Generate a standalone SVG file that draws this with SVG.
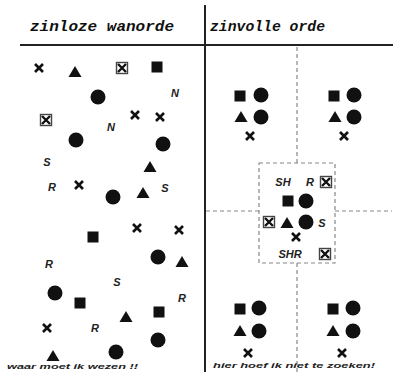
<svg xmlns="http://www.w3.org/2000/svg" xmlns:xlink="http://www.w3.org/1999/xlink" width="400" height="377" viewBox="0 0 400 377">
<style>
.ln{stroke:#222;stroke-width:2;fill:none}
.dash{stroke:#888;stroke-width:1.2;stroke-dasharray:4,3;fill:none}
.ttl{font-family:"Liberation Mono",monospace;font-weight:bold;font-style:italic;font-size:14px;fill:#111}
.ft{font-family:"Liberation Sans",Arial,sans-serif;font-weight:bold;font-style:italic;font-size:8px;fill:#222}
.lt{font-family:"Liberation Sans",Arial,sans-serif;font-weight:bold;font-style:italic;font-size:11px;fill:#222;text-anchor:middle}
</style>
<defs>
<rect id="sq" x="-5.5" y="-5.5" width="11" height="11" fill="#111"/>
<circle id="ci" r="7.5" fill="#111"/>
<polygon id="tr" points="0,-6 6.5,5 -6.5,5" fill="#111"/>
<path id="x" d="M-4,-4L4,4M4,-4L-4,4" stroke="#111" stroke-width="2.6" fill="none"/>
<g id="bx"><rect x="-5.5" y="-5.5" width="11" height="11" fill="none" stroke="#444" stroke-width="1.4"/><path d="M-4,-4L4,4M4,-4L-4,4" stroke="#111" stroke-width="2.4"/></g>
</defs>
<rect width="400" height="377" fill="#fff"/>
<g id="connectors">
<line class="ln" x1="20" y1="45" x2="393" y2="45"/>
<line class="ln" x1="205" y1="5" x2="205" y2="372"/>
<line class="dash" x1="297" y1="47" x2="297" y2="163"/>
<line class="dash" x1="297" y1="263" x2="297" y2="372"/>
<line class="dash" x1="206" y1="211" x2="259" y2="211"/>
<line class="dash" x1="335" y1="211" x2="392" y2="211"/>
<rect class="dash" x="259" y="163" width="76" height="100"/>
</g>
<g id="titles">
<text class="ttl" x="30" y="31" textLength="144" lengthAdjust="spacingAndGlyphs">zinloze wanorde</text>
<text class="ttl" x="210" y="31" textLength="115" lengthAdjust="spacingAndGlyphs">zinvolle orde</text>
<text class="ft" x="7" y="369" textLength="131" lengthAdjust="spacingAndGlyphs">waar moet ik wezen !!</text>
<text class="ft" x="213" y="368" textLength="162" lengthAdjust="spacingAndGlyphs">hier hoef ik niet te zoeken!</text>
</g>
<g id="left">
<use href="#x" x="39" y="68"/>
<use href="#tr" x="75" y="72"/>
<use href="#bx" x="122" y="68"/>
<use href="#sq" x="157" y="67"/>
<use href="#ci" x="98" y="97"/>
<text class="lt" x="175" y="97">N</text>
<use href="#bx" x="46" y="120"/>
<text class="lt" x="111" y="131">N</text>
<use href="#x" x="135" y="115"/>
<use href="#x" x="160" y="117"/>
<use href="#ci" x="76" y="140"/>
<use href="#ci" x="163" y="144"/>
<text class="lt" x="47" y="166">S</text>
<use href="#tr" x="150" y="167"/>
<text class="lt" x="52" y="191">R</text>
<use href="#x" x="79" y="185"/>
<use href="#ci" x="113" y="197"/>
<use href="#tr" x="143" y="193"/>
<text class="lt" x="165" y="192">S</text>
<use href="#sq" x="93" y="237"/>
<use href="#x" x="137" y="228"/>
<use href="#x" x="179" y="230"/>
<use href="#ci" x="158" y="257"/>
<use href="#tr" x="182" y="262"/>
<text class="lt" x="49" y="268">R</text>
<text class="lt" x="117" y="286">S</text>
<use href="#ci" x="55" y="293"/>
<use href="#sq" x="80" y="303"/>
<text class="lt" x="182" y="302">R</text>
<use href="#tr" x="126" y="317"/>
<use href="#sq" x="159" y="312"/>
<use href="#x" x="47" y="328"/>
<text class="lt" x="95" y="332">R</text>
<use href="#ci" x="158" y="340"/>
<use href="#ci" x="116" y="352"/>
<use href="#tr" x="53" y="356"/>
</g>
<g id="group-tl">
<use href="#sq" x="240" y="96"/><use href="#ci" x="261" y="95"/>
<use href="#tr" x="241" y="117"/><use href="#ci" x="261" y="117"/>
<use href="#x" x="250" y="136"/>
</g>
<g id="group-tr">
<use href="#sq" x="334" y="96"/><use href="#ci" x="354" y="95"/>
<use href="#tr" x="335" y="117"/><use href="#ci" x="354" y="117"/>
<use href="#x" x="344" y="136"/>
</g>
<g id="group-center">
<text class="lt" x="283" y="186">SH</text>
<text class="lt" x="310" y="186">R</text>
<use href="#bx" x="326" y="182"/>
<use href="#sq" x="288" y="201"/><use href="#ci" x="306" y="201"/>
<use href="#bx" x="269" y="222"/>
<use href="#tr" x="287" y="223"/>
<use href="#ci" x="306" y="222"/>
<text class="lt" x="322" y="227">S</text>
<use href="#x" x="296" y="237"/>
<text class="lt" x="290" y="258">SHR</text>
<use href="#bx" x="325" y="254"/>
</g>
<g id="group-bl">
<use href="#sq" x="240" y="309"/><use href="#ci" x="259" y="308"/>
<use href="#tr" x="240" y="331"/><use href="#ci" x="259" y="331"/>
<use href="#x" x="248" y="353"/>
</g>
<g id="group-br">
<use href="#sq" x="333" y="309"/><use href="#ci" x="353" y="308"/>
<use href="#tr" x="333" y="331"/><use href="#ci" x="353" y="331"/>
<use href="#x" x="342" y="353"/>
</g>
</svg>
